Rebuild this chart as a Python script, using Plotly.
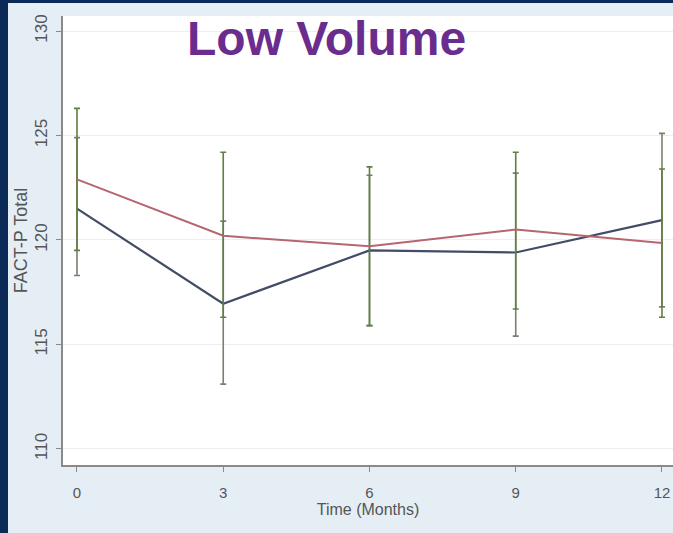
import plotly.graph_objects as go

months = [0, 3, 6, 9, 12]
red_mean = [122.9, 120.2, 119.7, 120.5, 119.85]
red_upper = [126.3, 124.2, 123.5, 124.2, 123.4]
red_lower = [119.5, 116.3, 115.9, 116.7, 116.3]
blue_mean = [121.5, 116.95, 119.5, 119.4, 120.95]
blue_upper = [124.9, 120.9, 123.1, 123.2, 125.1]
blue_lower = [118.3, 113.1, 115.9, 115.4, 116.8]
x_ticks = [0, 3, 6, 9, 12]
y_ticks = [110, 115, 120, 125, 130]

W, H = 673, 533
ml, mr, mt, mb = 63, 0, 16, 68
pw, ph = W - ml - mr, H - mt - mb

def px(x):
    return (x - ml) / pw

def py(y):
    return (H - mb - y) / ph

fig = go.Figure()

fig.add_trace(go.Scatter(
    x=months, y=blue_mean, mode="lines",
    line=dict(color="#424c66", width=2.2),
    error_y=dict(type="data", symmetric=False,
                 array=[u - m for u, m in zip(blue_upper, blue_mean)],
                 arrayminus=[m - l for m, l in zip(blue_mean, blue_lower)],
                 color="#7a8070", thickness=1.6, width=3),
    showlegend=False, hoverinfo="skip"))

fig.add_trace(go.Scatter(
    x=months, y=red_mean, mode="lines",
    line=dict(color="#b5666f", width=2.0),
    error_y=dict(type="data", symmetric=False,
                 array=[u - m for u, m in zip(red_upper, red_mean)],
                 arrayminus=[m - l for m, l in zip(red_mean, red_lower)],
                 color="#5f8040", thickness=1.6, width=3),
    showlegend=False, hoverinfo="skip"))

fig.update_layout(
    width=W, height=H,
    margin=dict(l=ml, r=mr, t=mt, b=mb, pad=0),
    paper_bgcolor="#e6eef5",
    plot_bgcolor="#ffffff",
    font=dict(family="Liberation Sans, Arial, sans-serif", color="#555555"),
    xaxis=dict(
        range=[-0.287, 12.226], tickvals=x_ticks, ticktext=[str(v) for v in x_ticks],
        showgrid=False, zeroline=False, showline=True, linecolor="#8a8a8a", linewidth=1.5,
        ticks="outside", ticklen=5, tickcolor="#8a8a8a", ticklabelstandoff=8,
        tickfont=dict(size=15, color="#555555"),
        title=dict(text="Time (Months)", font=dict(size=16, color="#555555"), standoff=2),
    ),
    yaxis=dict(
        range=[109.23, 130.72], tickvals=y_ticks, ticktext=[str(v) for v in y_ticks],
        showgrid=True, gridcolor="#eceef0", gridwidth=1, zeroline=False,
        showline=True, linecolor="#8a8a8a", linewidth=1.5,
        ticks="outside", ticklen=5, tickcolor="#8a8a8a", tickangle=-90,
        ticklabelstandoff=2,
        tickfont=dict(size=17, color="#555555"),
        title=dict(text="FACT-P Total", font=dict(size=18, color="#555555"), standoff=0),
    ),
    shapes=[
        dict(type="rect", xref="paper", yref="paper", x0=px(0), x1=px(8), y0=py(H), y1=py(0),
             fillcolor="#0c2a57", line=dict(width=0), layer="above"),
        dict(type="rect", xref="paper", yref="paper", x0=px(0), x1=px(W), y0=py(3), y1=py(0),
             fillcolor="#0c2a57", line=dict(width=0), layer="above"),
    ],
    annotations=[
        dict(text="<b>Low Volume</b>", xref="paper", yref="paper", x=px(326), y=py(38),
             xanchor="center", yanchor="middle", showarrow=False,
             font=dict(size=48, color="#6a2d8e", family="Liberation Sans, Arial, sans-serif")),
    ],
)

fig.write_html("out.html", config={"displayModeBar": False},
               post_script="document.body.style.margin='0';document.body.style.overflow='hidden';")
